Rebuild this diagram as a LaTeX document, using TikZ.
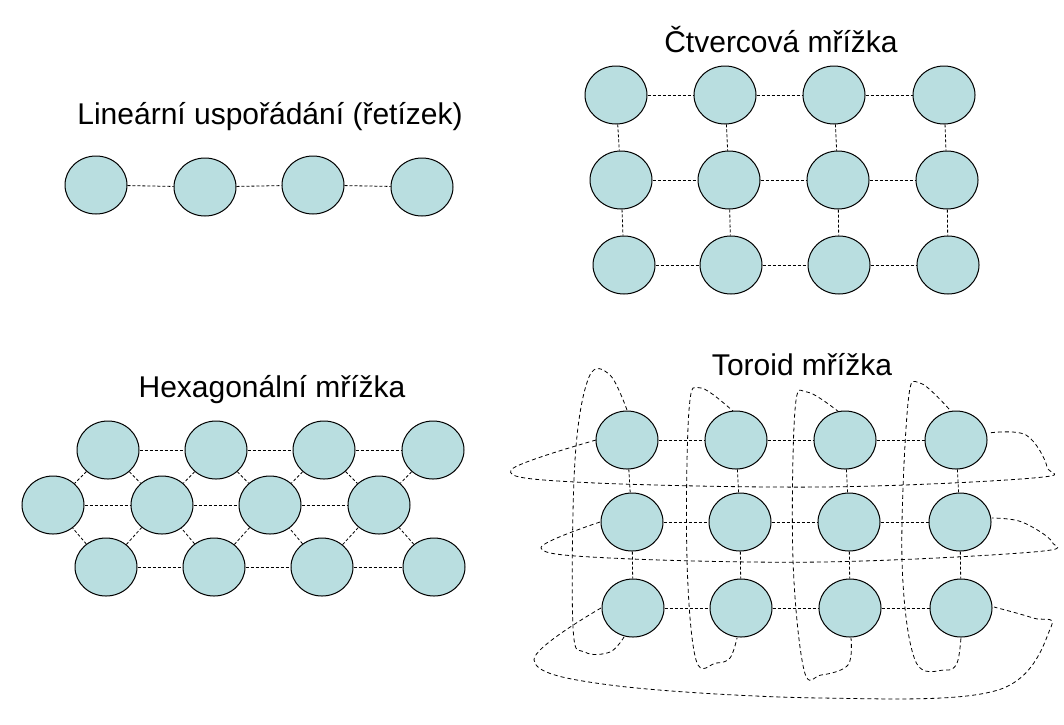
\documentclass[tikz,border=0pt]{standalone}
\usepackage{fontspec}
\setmainfont{Liberation Sans}
\usetikzlibrary{shapes.geometric}
\definecolor{nodefill}{HTML}{B9DEE0}
\begin{document}
\begin{tikzpicture}[x=1pt,y=-1pt,
  nd/.style={ellipse,draw=black,line width=1pt,fill=nodefill,minimum width=62pt,minimum height=58pt,inner sep=0pt},
  cn/.style={line width=0.8pt,dash pattern=on 3pt off 2pt},
  wrap/.style={line width=0.8pt,dash pattern=on 4pt off 3pt},
  ttl/.style={font=\fontsize{30}{34}\selectfont}]
\useasboundingbox (0,0) rectangle (1064,724);
% titles
\node[ttl] (t1) at (270,117) {Lineární uspořádání (řetízek)};
\node[ttl] (t2) at (781,40) {Čtvercová mřížka};
\node[ttl] (t3) at (272,390) {Hexagonální mřížka};
\node[ttl] (t4) at (802,365) {Toroid mřížka};
% linear
\foreach \i/\x/\y in {1/96/185,2/205/187,3/313/185,4/422/187}
  \node[nd] (l\i) at (\x,\y) {};
\draw[cn] (l1)--(l2) (l2)--(l3) (l3)--(l4);
% square
\foreach \i/\x in {1/616,2/725,3/834,4/944} \node[nd] (sa\i) at (\x,95) {};
\foreach \i/\x in {1/621,2/729,3/838,4/947} \node[nd] (sb\i) at (\x,180) {};
\foreach \i/\x in {1/624,2/731,3/839,4/948} \node[nd] (sc\i) at (\x,265) {};
\foreach \i/\j in {1/2,2/3,3/4} \draw[cn] (sa\i)--(sa\j) (sb\i)--(sb\j) (sc\i)--(sc\j);
\foreach \i in {1,...,4} \draw[cn] (sa\i)--(sb\i) (sb\i)--(sc\i);
% hexagonal
\foreach \i/\x in {1/108,2/216,3/324,4/433} \node[nd] (ha\i) at (\x,450) {};
\foreach \i/\x in {1/53,2/162,3/270,4/379} \node[nd] (hb\i) at (\x,505) {};
\foreach \i/\x in {1/106,2/214,3/322,4/434} \node[nd] (hc\i) at (\x,567) {};
\foreach \i/\j in {1/2,2/3,3/4} \draw[cn] (ha\i)--(ha\j) (hb\i)--(hb\j) (hc\i)--(hc\j);
\foreach \i/\j in {1/2,2/3,3/4} \draw[cn] (ha\i)--(hb\i) (ha\i)--(hb\j) (hc\i)--(hb\i) (hc\i)--(hb\j);
\draw[cn] (ha4)--(hb4) (hc4)--(hb4);
% toroid
\begin{scope}[xshift=-6pt]
\draw[wrap] plot[smooth,tension=0.6] coordinates {(602,440)(517,470)(581,482)(827,487)(1039,478)(1053,467)(1032,435)(994,433)};
\draw[wrap] plot[smooth,tension=0.6] coordinates {(606,522)(547,548)(616,558)(827,562)(1039,552)(1058,542)(1028,522)(998,518)};
\draw[wrap] plot[smooth,tension=0.6] coordinates {(607,608)(540,660)(616,685)(827,698)(1004,690)(1057,627)(1039,618)(1000,607)};
\draw[wrap] plot[smooth,tension=0.6] coordinates {(633,410)(616,375)(595,377)(581,460)(579,627)(591,652)(616,652)(630,637)};
\draw[wrap] plot[smooth,tension=0.6] coordinates {(741,413)(707,388)(695,410)(693,560)(702,660)(722,663)(736,658)(743,638)};
\draw[wrap] plot[smooth,tension=0.6] coordinates {(845,412)(813,392)(801,410)(799,560)(810,670)(827,675)(854,665)(857,638)};
\draw[wrap] plot[smooth,tension=0.6] coordinates {(955,409)(926,383)(914,403)(908,560)(921,660)(951,670)(963,663)(967,637)};
\foreach \i/\x in {1/633,2/742,3/851,4/962} \node[nd] (ta\i) at (\x,440) {};
\foreach \i/\x in {1/638,2/746,3/855,4/966} \node[nd] (tb\i) at (\x,522) {};
\foreach \i/\x in {1/639,2/747,3/856,4/967} \node[nd] (tc\i) at (\x,608) {};
\foreach \i/\j in {1/2,2/3,3/4} \draw[cn] (ta\i)--(ta\j) (tb\i)--(tb\j) (tc\i)--(tc\j);
\foreach \i in {1,...,4} \draw[cn] (ta\i)--(tb\i) (tb\i)--(tc\i);
\end{scope}
\end{tikzpicture}
\end{document}
